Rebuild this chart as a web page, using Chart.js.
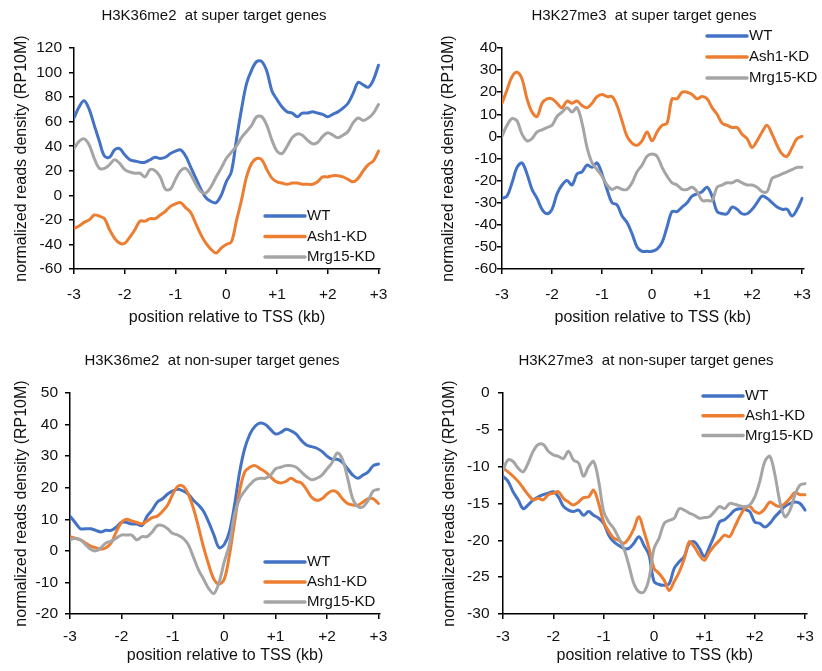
<!DOCTYPE html>
<html>
<head>
<meta charset="utf-8">
<script src="https://cdn.jsdelivr.net/npm/chart.js@4.4.1/dist/chart.umd.min.js"></script>
<style>
html, body { margin: 0; padding: 0; background: #fff; }
#wrap { position: relative; width: 822px; height: 671px; }
canvas { position: absolute; }
</style>
</head>
<body>
<div id="wrap">
  <canvas id="p1" width="411" height="335" style="left:0;top:0"></canvas>
  <canvas id="p2" width="411" height="335" style="left:411px;top:0"></canvas>
  <canvas id="p3" width="411" height="336" style="left:0;top:335px"></canvas>
  <canvas id="p4" width="411" height="336" style="left:411px;top:335px"></canvas>
</div>
<script>
// positions along the gene, kb relative to TSS
const positions = [-3.0,-2.9,-2.8,-2.7,-2.6,-2.5,-2.4,-2.3,-2.2,-2.1,-2.0,-1.9,-1.8,-1.7,-1.6,-1.5,-1.4,-1.3,-1.2,-1.1,-1.0,-0.9,-0.8,-0.7,-0.6,-0.5,-0.4,-0.3,-0.2,-0.1,0.0,0.1,0.2,0.3,0.4,0.5,0.6,0.7,0.8,0.9,1.0,1.1,1.2,1.3,1.4,1.5,1.6,1.7,1.8,1.9,2.0,2.1,2.2,2.3,2.4,2.5,2.6,2.7,2.8,2.9,3.0];
const xTicks = [-3, -2, -1, 0, 1, 2, 3];
const seriesNames = ['WT', 'Ash1-KD', 'Mrg15-KD'];

// H3K36me2 at super target genes
const k36SuperWT = [63,72,77,70,57,44,32,31,37,38,33, 29,28,27,27,29,31,30,31,34,36, 37,32,23,14,5,-2,-5,-6,0,11, 19,45,70,91,102,109,109,101,85,78, 72,68,67,64,67,67,68,67,66,64, 66,68,71,75,83,92,90,88,94,106];
const k36SuperAsh1 = [-27,-25,-22,-20,-16,-17,-19,-28,-35,-39,-39, -34,-28,-21,-21,-19,-19,-16,-13,-9,-7, -6,-10,-14,-23,-32,-39,-44,-47,-43,-40, -38,-21,-4,15,26,30,29,21,14,11, 10,9,10,10,9,9,9,11,15,15, 16,16,15,13,11,14,20,25,28,36];
const k36SuperMrg15 = [38,44,46,41,30,22,22,25,29,26,21, 19,18,18,15,21,20,15,5,5,13, 20,22,17,9,3,2,7,15,22,30, 35,40,47,52,57,64,64,57,45,36, 34,40,47,50,49,45,42,43,48,51, 49,47,49,52,59,63,61,63,67,74];
const k36SuperTicks = [-60,-40,-20,0,20,40,60,80,100,120];

// H3K27me3 at super target genes
const k27SuperWT = [-28,-27,-21,-14,-12,-17,-24,-28,-33,-35,-33, -26,-22,-20,-22,-17,-16,-13,-14,-12,-17, -24,-30,-31,-36,-39,-44,-50,-52,-52,-52, -51,-48,-41,-34,-34,-32,-30,-27,-26,-25, -23,-27,-34,-35,-35,-32,-33,-35,-35,-33, -30,-27,-28,-30,-32,-33,-33,-36,-33,-28];
const k27SuperAsh1 = [15,21,27,29,26,17,11,9,15,17,17, 15,13,16,15,16,14,13,15,18,19, 18,18,14,7,0,-3,-4,-2,2,-2, 2,5,6,17,17,20,20,19,17,18, 17,13,10,6,5,4,4,1,-1,-5, -2,2,5,1,-4,-8,-9,-5,-1,0];
const k27SuperMrg15 = [0,5,8,7,1,-2,-1,2,3,4,5, 9,11,13,11,13,6,-5,-12,-15,-18, -22,-24,-23,-24,-24,-21,-16,-13,-9,-8, -9,-14,-18,-21,-22,-24,-24,-23,-25,-29, -29,-29,-23,-22,-21,-21,-20,-21,-22,-22, -23,-25,-25,-19,-18,-17,-16,-15,-14,-14];
const k27SuperTicks = [-60,-50,-40,-30,-20,-10,0,10,20,30,40];

// H3K36me2 at non-super target genes
const k36NonWT = [11,9,7,7,7,6.5,6,6.5,6.5,7.5,9, 9,8.5,8.5,8,11,13,15.5,16.5,18,19, 19.5,19,18,16,14.5,12.5,9,5,1,2, 6,14.5,25,32.5,37,39.5,40.5,40,38.5,37, 37.5,38.5,38,37,35,33.5,33,32.5,31.5,30, 29,29,28,26,24,23,24,25,27,27.5];
const k36NonAsh1 = [4.5,4,3.5,2.5,1.5,1,0.5,1,2.5,6,9, 10,9.5,9,8.5,9.5,10.5,11,12.5,14.5,18, 20.5,20.5,18,13.5,7.5,1,-4.5,-9,-10.5,-9, -1.5,9,19,25,26.5,27,26,25,23.5,22, 21.5,22,23,22,21.5,19.5,17,16,16.5,18, 19,18.5,16.5,15,14.5,14.5,15.5,16.5,16.5,15];
const k36NonMrg15 = [3.5,4,3.5,2,0.5,0,1,2.5,3,4,5, 5,5,3.5,4.5,4.5,6,8,8,7,5.5, 5,4,2,-2,-6,-9,-12,-13.5,-10,-3.5, 2,11.5,16.5,19,21,22.5,23,23,24,26, 26.5,27,27,26.5,25,23.5,22.5,23,24,26, 28,31,29,23,16.5,14,14,16,19,19.5];
const k36NonTicks = [-20,-10,0,10,20,30,40,50];

// H3K27me3 at non-super target genes
const k27NonWT = [-11.3,-12,-13.4,-14.5,-15.7,-15.2,-14.5,-14.1,-13.8,-13.6,-13.4, -14.1,-15.4,-15.9,-16.1,-15.9,-16.6,-16.1,-16.6,-17,-17.7, -19.3,-20.2,-20.7,-21.1,-21.1,-20.4,-19.5,-20.7,-22,-25.6, -26,-26.1,-25.9,-23.8,-22.9,-22.2,-20.4,-20.2,-21.1,-22.2, -20.9,-19.3,-17.5,-17.2,-16.6,-15.9,-15.7,-15.8,-16.1,-17.5, -17.7,-18.2,-17.7,-16.8,-16.1,-15.4,-15,-14.8,-15,-15.9];
const k27NonAsh1 = [-10.2,-10.7,-11.3,-12,-12.9,-13.8,-14.5,-14.3,-14.5,-13.8,-13.6, -13.4,-14.3,-14.8,-15.2,-14.8,-14.2,-14.1,-13.2,-15,-17.5, -18.8,-19.7,-20,-20.4,-19.7,-18.4,-16.8,-18.8,-21.1,-23.8, -24.5,-25.4,-26.8,-25.6,-24.3,-22.5,-20.2,-20.9,-22,-22.7, -21.6,-20.7,-20,-19.3,-19.5,-18.2,-16.8,-15.7,-15.4,-16.1, -16.3,-15.7,-14.8,-15.2,-15.4,-15,-14.3,-13.5,-13.8,-13.8];
const k27NonMrg15 = [-10.4,-9.1,-9.3,-10.2,-10.7,-9.5,-7.9,-7,-7,-7.9,-8.4, -8.6,-8.9,-7.9,-9.1,-9.5,-11.3,-10,-9.3,-12,-16.1, -17.5,-18.4,-19.7,-21.1,-23.4,-25.9,-27,-27,-25.2,-21.1, -19.7,-17.7,-17.3,-17,-15.7,-15.9,-16.3,-16.6,-17,-16.9, -16.8,-16.1,-15.4,-15.7,-15,-15.1,-15.3,-15.4,-15.2,-14.1, -12,-9.3,-8.6,-11.1,-14.8,-16.8,-15.9,-13.8,-12.5,-12.3];
const k27NonTicks = [-30,-25,-20,-15,-10,-5,0];

const FONT = "'Liberation Sans', Arial, sans-serif";
const TEXT = '#111';
const colors = ['#4472C4', '#ED7D31', '#A5A5A5'];

// title and in-plot legend, placed like the original figure
const panelDecor = {
    id: 'panelDecor',
    afterDraw(chart, args, opts) {
        const ctx = chart.ctx;
        ctx.save();
        ctx.fillStyle = TEXT;
        ctx.textBaseline = 'middle';
        ctx.textAlign = 'center';
        ctx.font = '15px ' + FONT;
        ctx.fillText(opts.title, opts.titleX, opts.titleY);
        ctx.font = '15px ' + FONT;
        ctx.textAlign = 'left';
        chart.data.datasets.forEach((ds, i) => {
            const y = opts.legendY + i * opts.legendGap;
            ctx.strokeStyle = ds.borderColor;
            ctx.lineWidth = 3.5;
            ctx.lineCap = 'round';
            ctx.beginPath();
            ctx.moveTo(opts.legendX, y);
            ctx.lineTo(opts.legendX + 40, y);
            ctx.stroke();
            ctx.fillText(ds.label, opts.legendX + 42, y);
        });
        ctx.restore();
    }
};

function makePanel(id, values, yTicks, cfg) {
    const datasets = values.map((arr, i) => ({
        label: seriesNames[i],
        data: positions.map((x, j) => ({ x: x, y: arr[j] })),
        borderColor: colors[i],
        backgroundColor: colors[i],
        order: 3 - i
    }));
    return new Chart(document.getElementById(id), {
        type: 'line',
        data: { datasets: datasets },
        plugins: [panelDecor],
        options: {
            responsive: false,
            animation: false,
            layout: { padding: { top: cfg.top, right: cfg.right, left: 0, bottom: 0 } },
            elements: {
                point: { radius: 0 },
                line: { tension: 0.35, borderWidth: 3, borderJoinStyle: 'round', borderCapStyle: 'round' }
            },
            plugins: {
                legend: { display: false },
                tooltip: { enabled: false },
                panelDecor: cfg.decor
            },
            scales: {
                x: {
                    type: 'linear',
                    min: -3,
                    max: 3.03,
                    afterFit(s) { s.height = cfg.xHeight; },
                    afterBuildTicks(s) { s.ticks = xTicks.map(v => ({ value: v })); },
                    grid: { drawOnChartArea: false, drawTicks: true, tickLength: 5, color: '#000', lineWidth: 1.5 },
                    border: { display: true, color: '#000', width: 1.5 },
                    ticks: {
                        color: TEXT,
                        font: { family: FONT, size: 15.5 },
                        padding: cfg.xTickPad,
                        maxRotation: 0,
                        autoSkip: false,
                        callback: v => (v > 0 ? '+' + v : String(v))
                    },
                    title: {
                        display: true,
                        text: 'position relative to TSS (kb)',
                        color: TEXT,
                        font: { family: FONT, size: 16 },
                        padding: { top: 0, bottom: cfg.xTitlePad }
                    }
                },
                y: {
                    min: yTicks[0],
                    max: yTicks[yTicks.length - 1],
                    afterFit(s) { s.width = cfg.yWidth; },
                    afterBuildTicks(s) { s.ticks = yTicks.map(v => ({ value: v })); },
                    grid: { drawOnChartArea: false, drawTicks: true, tickLength: 5, color: '#000', lineWidth: 1.5 },
                    border: { display: true, color: '#000', width: 1.5 },
                    ticks: {
                        color: TEXT,
                        font: { family: FONT, size: 15.5 },
                        padding: cfg.yTickPad
                    },
                    title: {
                        display: true,
                        text: 'normalized reads density (RP10M)',
                        color: TEXT,
                        font: { family: FONT, size: 16 },
                        padding: { top: cfg.yTitlePad, bottom: 0 }
                    }
                }
            }
        }
    });
}

makePanel('p1', [k36SuperWT, k36SuperAsh1, k36SuperMrg15], k36SuperTicks, {
    top: 48, right: 31, xHeight: 66, yWidth: 74,
    xTickPad: 11, xTitlePad: 7.4, yTickPad: 7, yTitlePad: 12.4,
    decor: { title: 'H3K36me2  at super target genes', titleX: 214, titleY: 16, legendX: 265, legendY: 216, legendGap: 20.5 }
});

makePanel('p2', [k27SuperWT, k27SuperAsh1, k27SuperMrg15], k27SuperTicks, {
    top: 48, right: 11, xHeight: 66, yWidth: 91,
    xTickPad: 11, xTitlePad: 7.4, yTickPad: 0, yTitlePad: 28.4,
    decor: { title: 'H3K27me3  at super target genes', titleX: 233, titleY: 16, legendX: 296, legendY: 36, legendGap: 21 }
});

makePanel('p3', [k36NonWT, k36NonAsh1, k36NonMrg15], k36NonTicks, {
    top: 58, right: 31, xHeight: 57, yWidth: 70,
    xTickPad: 8, xTitlePad: 5.4, yTickPad: 7, yTitlePad: 12.4,
    decor: { title: 'H3K36me2  at non-super target genes', titleX: 212, titleY: 26, legendX: 265, legendY: 227, legendGap: 20 }
});

makePanel('p4', [k27NonWT, k27NonAsh1, k27NonMrg15], k27NonTicks, {
    top: 58, right: 9, xHeight: 57, yWidth: 92,
    xTickPad: 8, xTitlePad: 5.4, yTickPad: 8.5, yTitlePad: 29.4,
    decor: { title: 'H3K27me3  at non-super target genes', titleX: 235, titleY: 26, legendX: 292, legendY: 61, legendGap: 19.8 }
});
</script>
</body>
</html>
